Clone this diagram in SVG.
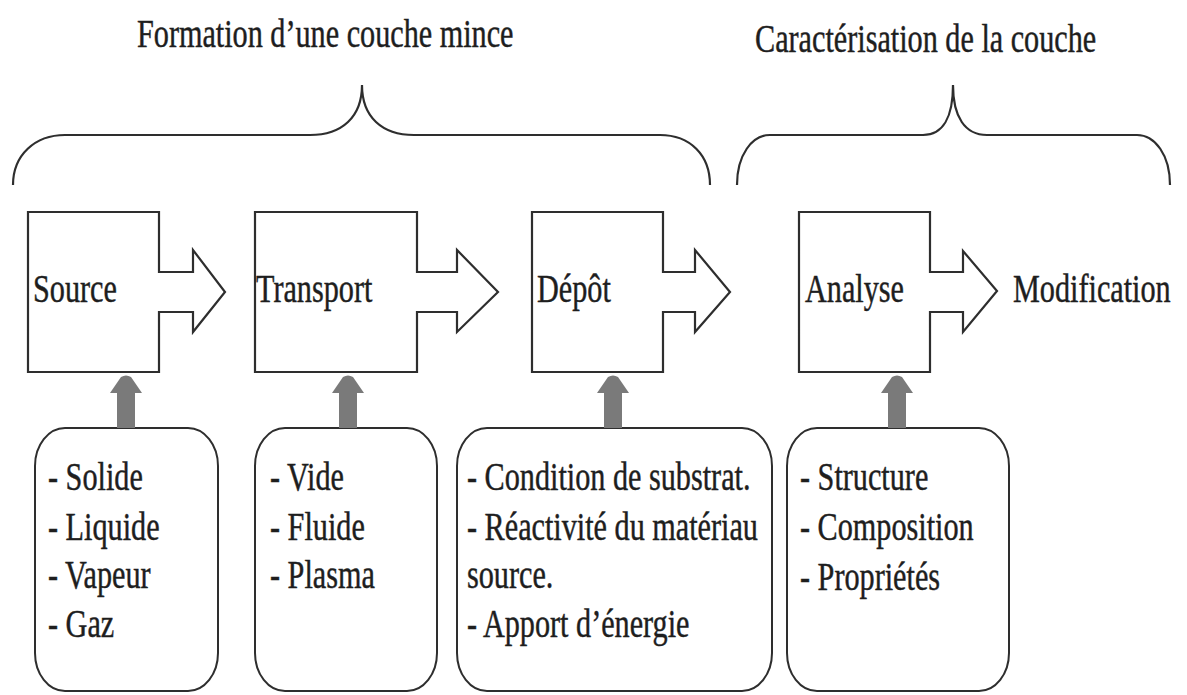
<svg xmlns="http://www.w3.org/2000/svg" width="1187" height="695" viewBox="0 0 1187 695">
  <style>
    .t { font-family: "Liberation Serif", "Times New Roman", serif; font-size: 40px; fill: #1e1e1e; stroke: #1e1e1e; stroke-width: 0.45; }
    .step { fill: #ffffff; stroke: #2e2e2e; stroke-width: 2.2; stroke-linejoin: miter; }
    .list { fill: #ffffff; stroke: #2e2e2e; stroke-width: 2; }
    .brace { fill: none; stroke: #2e2e2e; stroke-width: 2.2; }
    .feed { fill: #7a7a7a; stroke: none; }
  </style>
  <rect width="1187" height="695" fill="#ffffff"/>

  <!-- section headings -->
  <g id="heading-formation">
    <text class="t" transform="matrix(0.755 0 0 1 137 47)">Formation d’une couche mince</text>
    <path class="brace" d="M13,185 C13,155 35,135 65,135 H310 C342,135 362,117 362,85 C362,117 382,135 414,135 H660 C690,135 710,155 710,185"/>
  </g>
  <g id="heading-caracterisation">
    <text class="t" transform="matrix(0.755 0 0 1 755 52)">Caractérisation de la couche</text>
    <path class="brace" d="M737,185 C737,155 752,135 770,135 H923 C943,135 953,117 953,85 C953,117 965,135 987,135 H1137 C1155,135 1170,155 1170,185"/>
  </g>

  <!-- process steps (box with outgoing block arrow) -->
  <g id="step-source">
    <path class="step" d="M28,212 H159 V272 H193 V250 L225,292 L193,332 V312 H159 V372 H28 Z"/>
    <text class="t" transform="matrix(0.755 0 0 1 33 302)">Source</text>
  </g>
  <g id="step-transport">
    <path class="step" d="M255,212 H417 V272 H457 V250 L498,292 L457,332 V312 H417 V372 H255 Z"/>
    <text class="t" transform="matrix(0.755 0 0 1 256 302)">Transport</text>
  </g>
  <g id="step-depot">
    <path class="step" d="M532,212 H663 V272 H695 V250 L730,292 L695,332 V312 H663 V372 H532 Z"/>
    <text class="t" transform="matrix(0.755 0 0 1 537 302)">Dépôt</text>
  </g>
  <g id="step-analyse">
    <path class="step" d="M799,212 H930 V272 H963 V251 L997,291 L963,332 V312 H930 V372 H799 Z"/>
    <text class="t" transform="matrix(0.755 0 0 1 805 302)">Analyse</text>
  </g>
  <g id="step-modification">
    <text class="t" transform="matrix(0.755 0 0 1 1013 302)">Modification</text>
  </g>

  <!-- parameter lists -->
  <g id="list-source">
    <rect class="list" x="35" y="428" width="183" height="263" rx="30" ry="38"/>
    <text class="t" transform="matrix(0.755 0 0 1 48 490)">- Solide</text>
    <text class="t" transform="matrix(0.755 0 0 1 48 540)">- Liquide</text>
    <text class="t" transform="matrix(0.755 0 0 1 48 588)">- Vapeur</text>
    <text class="t" transform="matrix(0.755 0 0 1 48 637)">- Gaz</text>
  </g>
  <g id="list-transport">
    <rect class="list" x="255" y="428" width="182" height="263" rx="30" ry="38"/>
    <text class="t" transform="matrix(0.755 0 0 1 270 490)">- Vide</text>
    <text class="t" transform="matrix(0.755 0 0 1 270 540)">- Fluide</text>
    <text class="t" transform="matrix(0.755 0 0 1 270 588)">- Plasma</text>
  </g>
  <g id="list-depot">
    <rect class="list" x="457" y="428" width="315" height="263" rx="30" ry="38"/>
    <text class="t" transform="matrix(0.755 0 0 1 467 490)">- Condition de substrat.</text>
    <text class="t" transform="matrix(0.755 0 0 1 467 540)">- Réactivité du matériau</text>
    <text class="t" transform="matrix(0.755 0 0 1 467 588)">source.</text>
    <text class="t" transform="matrix(0.755 0 0 1 467 637)">- Apport d’énergie</text>
  </g>
  <g id="list-analyse">
    <rect class="list" x="787" y="428" width="222" height="263" rx="30" ry="38"/>
    <text class="t" transform="matrix(0.755 0 0 1 800 490)">- Structure</text>
    <text class="t" transform="matrix(0.755 0 0 1 800 540)">- Composition</text>
    <text class="t" transform="matrix(0.755 0 0 1 800 590)">- Propriétés</text>
  </g>

  <!-- upward feed arrows from lists into steps -->
  <defs>
    <path id="feed-arrow" d="M-9,53 V18 H-16 L-5,2 Q0,-1 5,2 L16,18 H9 V53 Z"/>
  </defs>
  <g id="connectors">
    <use href="#feed-arrow" class="feed" x="126" y="375"/>
    <use href="#feed-arrow" class="feed" x="348" y="375"/>
    <use href="#feed-arrow" class="feed" x="613" y="375"/>
    <use href="#feed-arrow" class="feed" x="897" y="375"/>
  </g>
</svg>
